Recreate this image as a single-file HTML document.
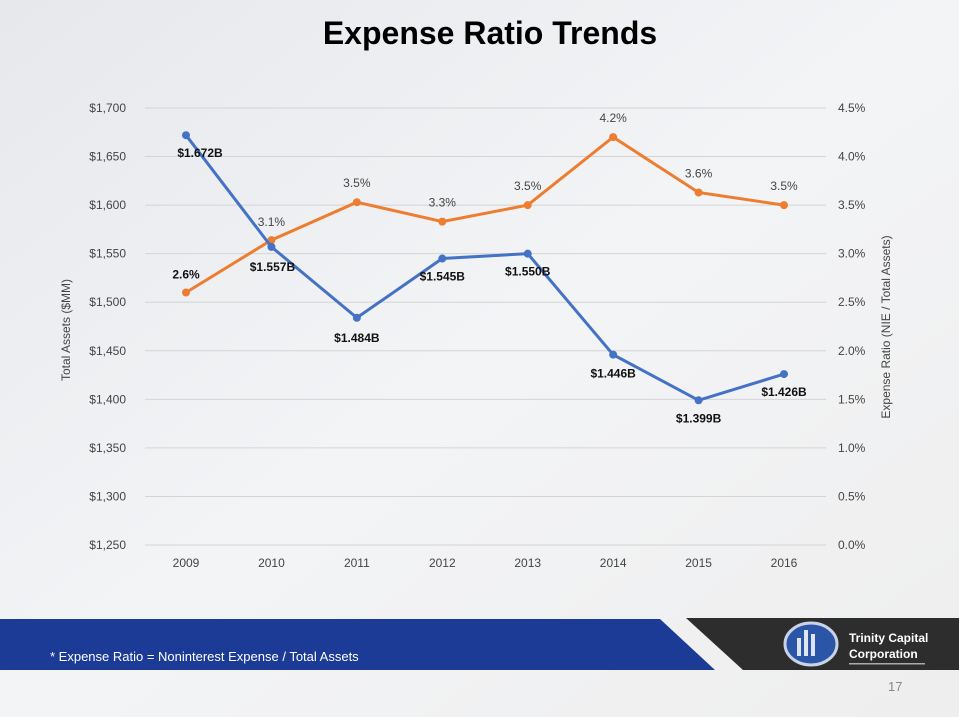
<!DOCTYPE html>
<html><head><meta charset="utf-8"><style>
body{margin:0;width:959px;height:717px;overflow:hidden;background:#f1f1f1;font-family:"Liberation Sans",sans-serif}
svg{display:block}
</style></head><body>
<svg id="s" width="959" height="717" xmlns="http://www.w3.org/2000/svg">
<defs><linearGradient id="bg" x1="0" y1="0" x2="1" y2="1"><stop offset="0" stop-color="#e6e8ec"/><stop offset="0.5" stop-color="#f3f4f6"/><stop offset="1" stop-color="#eeeeee"/></linearGradient></defs>
<rect width="959" height="717" fill="url(#bg)"/>
<text x="490" y="44" text-anchor="middle" font-size="32" font-weight="bold" fill="#000">Expense Ratio Trends</text>
<g id="grid"></g><g id="plot"></g>
<text transform="translate(70,330) rotate(-90)" text-anchor="middle" font-size="12" fill="#444">Total Assets ($MM)</text>
<text transform="translate(890,327) rotate(-90)" text-anchor="middle" font-size="12" fill="#444">Expense Ratio (NIE / Total Assets)</text>
<polygon points="0,619 660,619 715,670 0,670" fill="#1b3b97"/>
<text x="50" y="661" font-size="13" fill="#fff">* Expense Ratio = Noninterest Expense / Total Assets</text>
<polygon points="686,618 959,618 959,670 743,670" fill="#2d2d2d"/>
<g>
<ellipse cx="811" cy="644" rx="26" ry="21" fill="#2b56a8" stroke="#c9d3e6" stroke-width="3"/>
<rect x="797" y="638" width="4" height="18" fill="#dfe6f2"/><rect x="804" y="630" width="4" height="26" fill="#dfe6f2"/><rect x="811" y="634" width="4" height="22" fill="#dfe6f2"/>
<text x="849" y="642" font-size="12" font-weight="bold" fill="#fff">Trinity Capital</text>
<text x="849" y="658" font-size="12" font-weight="bold" fill="#fff">Corporation</text>
<rect x="849" y="663" width="76" height="1.5" fill="#aaa"/>
</g>
<text x="888" y="691" font-size="13" fill="#888">17</text>
</svg>
<script>
const years=["2009","2010","2011","2012","2013","2014","2015","2016"];
const assets=[1672,1557,1484,1545,1550,1446,1399,1426];
const assetLabels=["$1.672B","$1.557B","$1.484B","$1.545B","$1.550B","$1.446B","$1.399B","$1.426B"];
const ratio=[2.6,3.14,3.53,3.33,3.5,4.2,3.63,3.5];
const ratioLabels=["2.6%","3.1%","3.5%","3.3%","3.5%","4.2%","3.6%","3.5%"];
const leftTicks=[1250,1300,1350,1400,1450,1500,1550,1600,1650,1700];
const rightTicks=[0,0.5,1,1.5,2,2.5,3,3.5,4,4.5];
const NS="http://www.w3.org/2000/svg";
const X0=186,XS=85.43,YB=545,YT=108;
const xp=i=>X0+i*XS;
const yl=v=>YB-(v-1250)/450*(YB-YT);
const yr=v=>YB-v/4.5*(YB-YT);
function mk(t,a,p){const e=document.createElementNS(NS,t);for(const k in a)e.setAttribute(k,a[k]);p.appendChild(e);return e;}
const g=document.getElementById('grid'),p=document.getElementById('plot');
leftTicks.forEach(v=>{const l=mk('line',{x1:145,x2:826,y1:yl(v),y2:yl(v),stroke:'#d4d4d4','stroke-width':1},g);


const t=mk('text',{x:126,y:yl(v)+4,'text-anchor':'end','font-size':12,fill:'#444'},g);t.textContent='$'+v.toLocaleString('en-US');

});
rightTicks.forEach(v=>{const t=mk('text',{x:838,y:yr(v)+4,'font-size':12,fill:'#444'},g);t.textContent=v.toFixed(1)+'%';

});
years.forEach((y,i)=>{const t=mk('text',{x:xp(i),y:567,'text-anchor':'middle','font-size':12,fill:'#444'},g);t.textContent=y;

});
function series(vals,yf,col,name){
const pl=mk('polyline',{points:vals.map((v,i)=>xp(i)+','+yf(v)).join(' '),fill:'none',stroke:col,'stroke-width':3},p);


vals.forEach((v,i)=>{const c=mk('circle',{cx:xp(i),cy:yf(v),r:4,fill:col},p);

});}
series(ratio,yr,'#ed7d31','ratio');
series(assets,yl,'#4472c4','assets');
const aOff=[[14,22],[1,24],[0,24],[0,22],[0,22],[0,23],[0,22],[0,22]];
assets.forEach((v,i)=>{const t=mk('text',{x:xp(i)+aOff[i][0],y:yl(v)+aOff[i][1],'text-anchor':'middle','font-size':12,'font-weight':'bold',fill:'#111'},p);t.textContent=assetLabels[i];

});
ratio.forEach((v,i)=>{const dy=i==1?-14:(i==0?-14:-15);const t=mk('text',{x:xp(i),y:yr(v)+dy,'text-anchor':'middle','font-size':12,fill:i==0?'#111':'#444','font-weight':i==0?'bold':'normal'},p);t.textContent=ratioLabels[i];

});
</script>
</body></html>
